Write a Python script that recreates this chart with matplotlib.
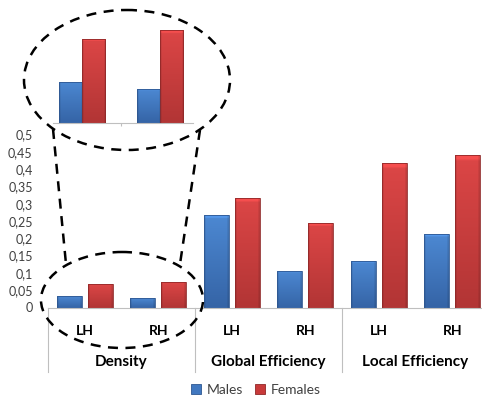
import matplotlib
matplotlib.use("Agg")
import matplotlib.pyplot as plt
from matplotlib.patches import Ellipse, Patch
from matplotlib.colors import to_rgb
import numpy as np

# ---- data ----
categories = ["LH", "RH", "LH", "RH", "LH", "RH"]
groups = ["Density", "Global Efficiency", "Local Efficiency"]
males = [0.033, 0.027, 0.266, 0.105, 0.134, 0.213]
females = [0.067, 0.074, 0.316, 0.243, 0.418, 0.442]
yticks = [0, 0.05, 0.1, 0.15, 0.2, 0.25, 0.3, 0.35, 0.4, 0.45, 0.5]
ytick_labels = ["0", "0,05", "0,1", "0,15", "0,2", "0,25", "0,3", "0,35", "0,4", "0,45", "0,5"]
inset_males = males[:2]
inset_females = females[:2]

W, H = 482, 401
BLUE_T, BLUE_B, BLUE_E = "#4C88D2", "#3564A6", "#2E5791"
RED_T, RED_B, RED_E = "#DC4646", "#B23535", "#902828"
TXT = "#404040"
GRID = "#BFBFBF"
plt.rcParams["font.family"] = ["Lato", "DejaVu Sans"]

fig = plt.figure(figsize=(W / 100, H / 100), dpi=100)


def px_axes(x0, y_top, x1, y_bot):
    return fig.add_axes([x0 / W, 1 - y_bot / H, (x1 - x0) / W, (y_bot - y_top) / H])


def shade(axis, bars, ctop, cbot):
    t = np.array(to_rgb(ctop))
    b = np.array(to_rgb(cbot))
    n = 64
    f = np.linspace(0, 1, n)[:, None]
    col = t * (1 - f) + b * f
    # horizontal darkening at edges
    m = 16
    g = np.ones(m)
    g[0] = g[-1] = 0.88
    img = col[:, None, :] * g[None, :, None]
    # top highlight
    img[0:2] = np.clip(img[0:2] * 1.12, 0, 1)
    xl, yl = axis.get_xlim(), axis.get_ylim()
    for r in bars:
        x0, y0 = r.get_x(), r.get_y()
        w, h = r.get_width(), r.get_height()
        r.set_facecolor("none")
        im = axis.imshow(img, extent=(x0, x0 + w, y0, y0 + h), origin="upper",
                         aspect="auto", interpolation="bilinear", zorder=2.5)
        im.set_clip_path(r)
    axis.set_xlim(xl)
    axis.set_ylim(yl)


# ---- main axes ----
ax = px_axes(48, 134.5, 489, 307.5)
x = np.arange(len(categories))
bw = 0.34
off = 0.214
ax.set_xlim(-0.5, 5.5)
ax.set_ylim(0, 0.5)
bm = ax.bar(x - off, males, bw, edgecolor=BLUE_E, linewidth=0.6, zorder=3)
bf = ax.bar(x + off, females, bw, edgecolor=RED_E, linewidth=0.6, zorder=3)
shade(ax, bm, BLUE_T, BLUE_B)
shade(ax, bf, RED_T, RED_B)
ax.set_yticks(yticks)
ax.set_yticklabels(ytick_labels, fontsize=9, color=TXT)
ax.tick_params(axis="y", length=0, pad=11)
ax.set_xticks([])
for s in ["top", "right", "left"]:
    ax.spines[s].set_visible(False)
ax.spines["bottom"].set_color(GRID)
ax.spines["bottom"].set_linewidth(0.8)
ax.patch.set_alpha(0)

tr = ax.get_xaxis_transform()
for i, c in enumerate(categories):
    ax.text(i, -0.136, c, transform=tr, ha="center", va="center",
            fontsize=10, fontweight="bold", color="black")
for g, name in enumerate(groups):
    ax.text(2 * g + 0.5, -0.315, name, transform=tr, ha="center", va="center",
            fontsize=11, fontweight="bold", color="black")
for b in [-0.5, 1.5, 3.5, 5.5]:
    ax.plot([b, b], [0, -0.373], transform=tr, color=GRID, lw=0.8, clip_on=False)

# ---- inset (zoomed density) ----
ai = px_axes(53, 20, 193, 123.3)
xi = np.arange(2)
wi = 0.295
ai.set_xlim(-0.37, 1.42)
ai.set_ylim(0, 0.0822)
im1 = ai.bar(xi - wi / 2, inset_males, wi, edgecolor=BLUE_E, linewidth=0.6, zorder=3)
im2 = ai.bar(xi + wi / 2, inset_females, wi, edgecolor=RED_E, linewidth=0.6, zorder=3)
shade(ai, im1, BLUE_T, BLUE_B)
shade(ai, im2, RED_T, RED_B)
ai.set_yticks([])
ai.set_xticks([0.5])
ai.set_xticklabels([])
ai.tick_params(axis="x", length=2, color=GRID)
for s in ["top", "right", "left"]:
    ai.spines[s].set_visible(False)
ai.spines["bottom"].set_color(GRID)
ai.spines["bottom"].set_linewidth(0.8)
ai.patch.set_alpha(0)

# ---- overlay: dashed ellipses and connectors ----
ov = fig.add_axes([0, 0, 1, 1])
ov.set_xlim(0, W)
ov.set_ylim(H, 0)
ov.axis("off")
ov.patch.set_alpha(0)
ds = (0, (4, 3))
ov.add_patch(Ellipse((127, 80), 206, 140, fill=False, ec="black", lw=1.8, ls=ds))
ov.add_patch(Ellipse((122, 300), 162, 96, fill=False, ec="black", lw=1.8, ls=ds))
ov.plot([53, 66], [129, 264], color="black", lw=1.8, ls=ds)
ov.plot([200, 180], [130, 264], color="black", lw=1.8, ls=ds)

# ---- legend ----
handles = [Patch(facecolor="#4178C0", edgecolor=BLUE_E, lw=0.6, label="Males"),
           Patch(facecolor="#C83A3A", edgecolor=RED_E, lw=0.6, label="Females")]
fig.legend(handles=handles, loc="center", bbox_to_anchor=(256 / W, 1 - 390 / H),
           ncol=2, frameon=False, fontsize=10, handlelength=0.7, handleheight=0.7,
           handletextpad=0.4, columnspacing=0.9, labelcolor=TXT)

fig.savefig("out.png", dpi=100)
